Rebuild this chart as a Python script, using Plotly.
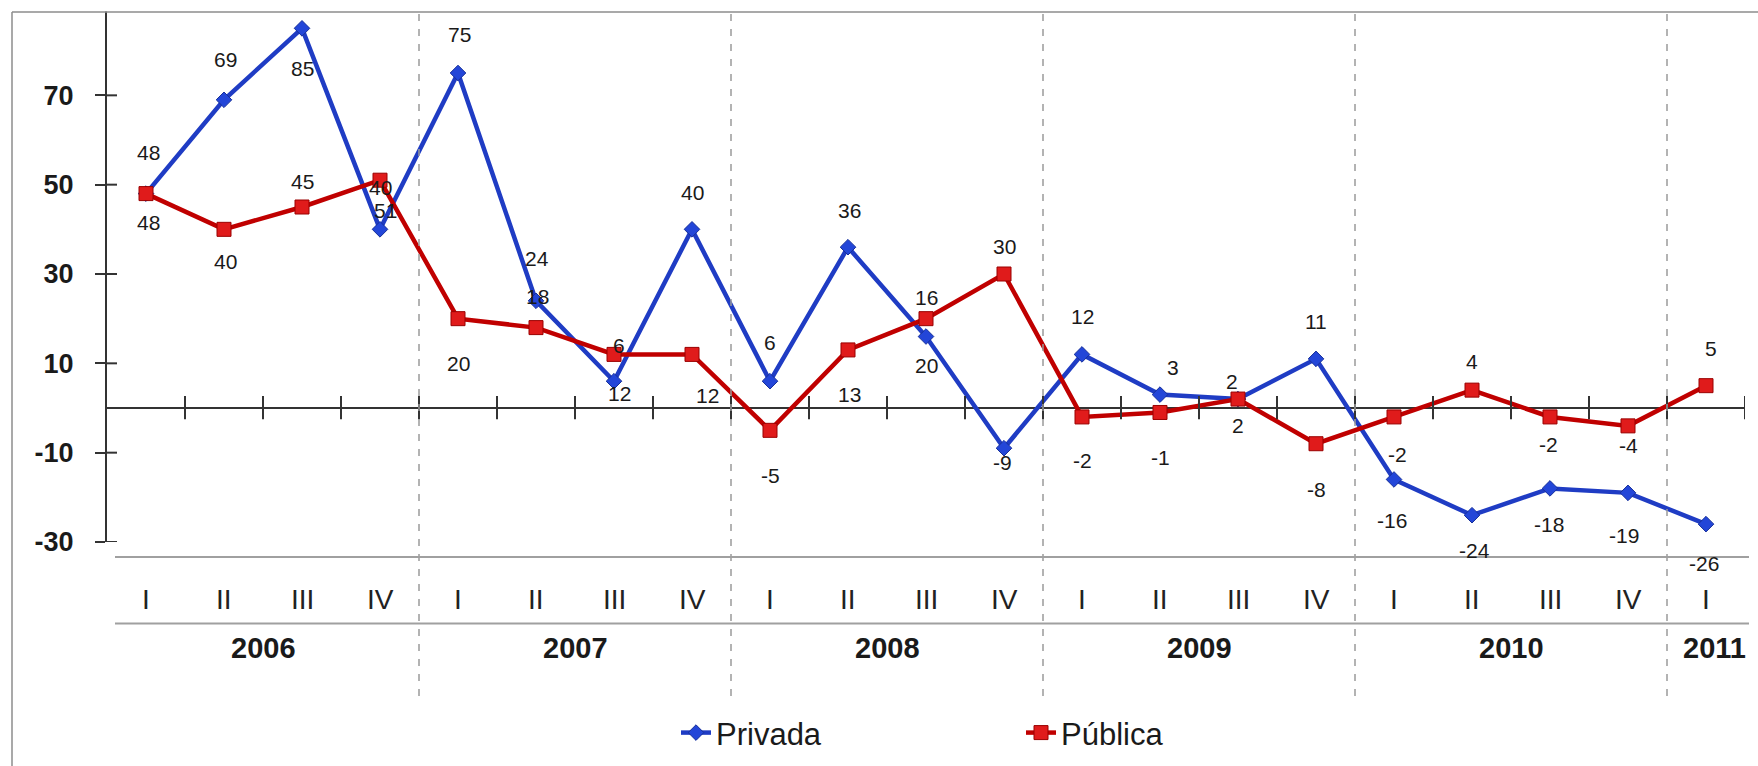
import plotly.graph_objects as go

# ---------------- data ----------------
quarters = ["I", "II", "III", "IV"] * 5 + ["I"]
years = ["2006", "2007", "2008", "2009", "2010", "2011"]
year_first_idx = [0, 4, 8, 12, 16, 20]
year_counts = [4, 4, 4, 4, 4, 1]

privada = [48, 69, 85, 40, 75, 24, 6, 40, 6, 36, 16, -9, 12, 3, 2, 11, -16, -24, -18, -19, -26]
publica = [48, 40, 45, 51, 20, 18, 12, 12, -5, 13, 20, 30, -2, -1, 2, -8, -2, 4, -2, -4, 5]

y_ticks = [-30, -10, 10, 30, 50, 70, 90]

# label placement (pixel offsets: dx right, up = positive upward)
priv_dx = [2, 1, 0, 0, 1, 1, 5, 0, 0, 1, 0, -2, 0, 13, -6, 0, -2, 2, -1, -4, -2]
priv_up = [41, 40, -40, 42, 39, 42, 36, 37, 39, 37, 39, -14, 38, 27, 18, 37, -41, -35, -36, -43, -39]
pub_dx = [2, 1, 0, 5, 0, 1, 5, 15, 0, 1, 0, 0, 0, 0, 0, 0, 3, 0, -2, 0, 5]
pub_up = [-29, -32, 26, -30, -45, 31, -39, -41, -45, -45, -47, 28, -44, -45, -26, -46, -38, 29, -28, -20, 37]

# ---------------- geometry ----------------
W, H = 1758, 766
ML, MR, MT, MB = 107, 13, 6, 221
PW = W - ML - MR
PH = H - MT - MB
BLUE = "#1f3cc4"
RED = "#c00000"
FONT = "Liberation Sans, Arial, sans-serif"


def py(p):  # pixel y -> paper y
    return (MT + PH - p) / PH


def px(p):  # pixel x -> x domain
    return (p - ML) / PW


n = len(privada)
xs = list(range(n))

fig = go.Figure()
fig.add_trace(go.Scatter(
    x=xs, y=privada, name="Privada", mode="lines+markers",
    line=dict(color=BLUE, width=4.5),
    marker=dict(symbol="diamond", size=12, color="#2346d8", line=dict(color="#17309a", width=1)),
))
fig.add_trace(go.Scatter(
    x=xs, y=publica, name="Pública", mode="lines+markers",
    line=dict(color=RED, width=4.5),
    marker=dict(symbol="square", size=14, color="#e01b1b", line=dict(color="#9a0000", width=1)),
))

annotations = []
for i in xs:
    annotations.append(dict(x=i, y=privada[i], xref="x", yref="y", text=str(privada[i]),
                            showarrow=False, xshift=priv_dx[i], yshift=priv_up[i],
                            font=dict(family=FONT, size=21, color="#1a1a1a")))
    annotations.append(dict(x=i, y=publica[i], xref="x", yref="y", text=str(publica[i]),
                            showarrow=False, xshift=pub_dx[i], yshift=pub_up[i],
                            font=dict(family=FONT, size=21, color="#1a1a1a")))

# quarter labels
for i, q in enumerate(quarters):
    annotations.append(dict(x=i, y=py(603), xref="x", yref="paper", text=q, showarrow=False,
                            yanchor="middle", font=dict(family=FONT, size=28, color="#222")))
# year labels
for yname, f, c in zip(years, year_first_idx, year_counts):
    cx = f + (c - 1) / 2
    annotations.append(dict(x=cx, y=py(652), xref="x", yref="paper", text="<b>%s</b>" % yname,
                            showarrow=False, yanchor="middle", xshift=8 if c == 1 else 0,
                            font=dict(family=FONT, size=29, color="#1a1a1a")))

shapes = []
# tick marks crossing the zero line at category boundaries
for i in xs:
    b = i + 0.5
    shapes.append(dict(type="line", xref="x", yref="y", x0=b, x1=b, y0=-2.5, y1=2.7,
                       line=dict(color="#333", width=2)))
# inner half of y ticks
for t in y_ticks:
    shapes.append(dict(type="line", xref="x domain", yref="y", x0=0, x1=10 / PW, y0=t, y1=t,
                       line=dict(color="#333", width=2)))
# year separators (dashed)
for f in year_first_idx[1:]:
    shapes.append(dict(type="line", xref="x", yref="paper", x0=f - 0.5, x1=f - 0.5,
                       y0=py(14), y1=py(706), line=dict(color="#9a9a9a", width=1.5, dash="7px,8px")))
# horizontal gray lines of the category table
for yy in (560, 627):
    shapes.append(dict(type="line", xref="x domain", yref="paper", x0=px(115), x1=px(1749),
                       y0=py(yy), y1=py(yy), line=dict(color="#a0a0a0", width=2)))
# white band above frame (clips the top tick label) and the outer frame
shapes.append(dict(type="rect", xref="x domain", yref="paper", x0=px(-5), x1=px(W + 5),
                   y0=py(11.5), y1=py(-20), fillcolor="white", line=dict(width=0), layer="above"))
shapes.append(dict(type="line", xref="x domain", yref="paper", x0=px(12), x1=px(W + 5),
                   y0=py(12), y1=py(12), line=dict(color="#8c8c8c", width=1.5), layer="above"))
shapes.append(dict(type="line", xref="x domain", yref="paper", x0=px(12), x1=px(12),
                   y0=py(12), y1=py(H + 5), line=dict(color="#8c8c8c", width=1.5), layer="above"))

fig.update_layout(
    width=W, height=H,
    margin=dict(l=ML, r=MR, t=MT, b=MB, pad=0),
    paper_bgcolor="white", plot_bgcolor="white",
    font=dict(family=FONT, color="#222"),
    showlegend=True,
    legend=dict(orientation="h", x=px(676), y=py(737), xanchor="left", yanchor="middle",
                font=dict(family=FONT, size=31, color="#1a1a1a"),
                entrywidth=300, entrywidthmode="pixels", bgcolor="rgba(0,0,0,0)"),
    xaxis=dict(range=[-0.5, n - 0.5], showgrid=False, zeroline=False, showline=False,
               showticklabels=False, ticks=""),
    yaxis=dict(range=[-30, 90], tickmode="array", tickvals=y_ticks,
               ticktext=["<b>%d</b>" % t for t in y_ticks],
               showgrid=False, zeroline=True, zerolinecolor="#333", zerolinewidth=2,
               showline=True, linecolor="#333", linewidth=2,
               ticks="outside", ticklen=10, tickwidth=2, tickcolor="#333",
               ticklabelstandoff=16, tickfont=dict(family=FONT, size=27, color="#1a1a1a")),
    annotations=annotations,
    shapes=shapes,
)

fig.write_html("out.html", config={"displayModeBar": False},
               post_script="document.body.style.margin='0';")
